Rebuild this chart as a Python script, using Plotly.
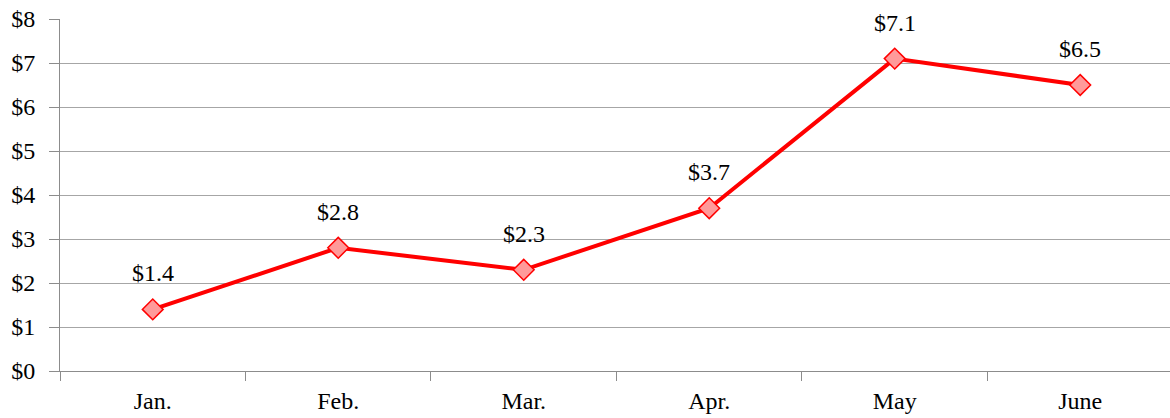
import plotly.graph_objects as go

months = ["Jan.", "Feb.", "Mar.", "Apr.", "May", "June"]
values = [1.4, 2.8, 2.3, 3.7, 7.1, 6.5]
labels = ["$1.4", "$2.8", "$2.3", "$3.7", "$7.1", "$6.5"]

font = dict(family="Liberation Serif, Times New Roman, serif", size=24, color="#000000")

fig = go.Figure()
fig.add_trace(go.Scatter(
    x=months, y=values, mode="lines+markers",
    line=dict(color="#ff0000", width=4),
    marker=dict(symbol="diamond", size=16, color="#ff9a9a",
                line=dict(color="#ff0000", width=1.5)),
    cliponaxis=False,
    hoverinfo="skip",
))

for m, v, t in zip(months, values, labels):
    fig.add_annotation(x=m, y=v, text=t, showarrow=False, yshift=36,
                       font=font, xanchor="center", yanchor="middle")

fig.update_layout(
    width=1170, height=418,
    margin=dict(l=60, r=0, t=19, b=47),
    paper_bgcolor="white", plot_bgcolor="white",
    showlegend=False,
    font=font,
    xaxis=dict(
        type="category", range=[-0.5, 5.484], automargin=False,
        tickson="boundaries", ticks="outside", ticklen=9, tickcolor="#8c8c8c",
        tickwidth=1, showgrid=False, showline=True, linecolor="#8c8c8c",
        linewidth=1, tickfont=font, ticklabelstandoff=8, fixedrange=True,
    ),
    yaxis=dict(
        range=[0, 8], dtick=1, tick0=0, tickprefix="$", automargin=False,
        ticks="outside", ticklen=10, tickcolor="#8c8c8c", tickwidth=1,
        showgrid=True, gridcolor="#a6a6a6", gridwidth=1,
        showline=True, linecolor="#8c8c8c", linewidth=1,
        zeroline=False, tickfont=font, ticklabelstandoff=9,
        fixedrange=True,
    ),
)

# remove the browser's default body margin so the figure fills the window exactly
fig.write_html("out.html", config={"displayModeBar": False},
               post_script="document.body.style.margin='0';")
